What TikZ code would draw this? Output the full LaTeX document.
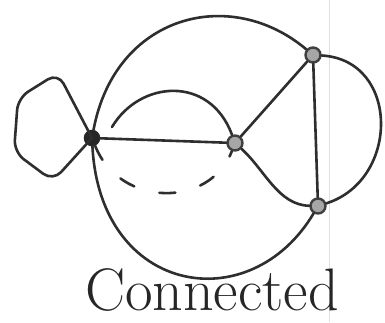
\documentclass[tikz,border=0pt]{standalone}
\begin{document}
\begin{tikzpicture}[x=1pt,y=-1pt,
  ink/.style={draw=black!82,line width=2.6pt,line cap=round,line join=round},
  vfill/.style={circle,inner sep=0pt,minimum size=15pt,fill=black!85,draw=black!85,line width=1.5pt},
  vhollow/.style={circle,inner sep=0pt,minimum size=15pt,fill=black!35,draw=black!75,line width=2.4pt},
  lbl/.style={font=\fontsize{60}{60}\selectfont,text=black!85,anchor=base,inner sep=0pt}]
\useasboundingbox (0,0) rectangle (385,322);
\fill[white] (0,0) rectangle (385,322);
\draw[black!12,line width=1pt] (329,0) -- (329,322);

\node[vfill] (A) at (92,138) {};
\node[vhollow] (B) at (235,143) {};
\node[vhollow] (C) at (313,55) {};
\node[vhollow] (D) at (318,206) {};
\coordinate (a1) at (112,127);

% loop at A
\draw[ink,rounded corners=12pt] (A.center) -- (58,73) -- (18,98) -- (14,152) -- (53,181) -- (A.center);
% big upper arc A-C
\draw[ink] (A) .. controls (115,15) and (230,-15) .. (C);
% big lower arc A-D
\draw[ink] (A) .. controls (100,295) and (250,320) .. (D);
% middle arc to B
\draw[ink] (a1) .. controls (140,80) and (210,75) .. (B);
% A-B straight
\draw[ink] (A) -- (B);
% dashed arc A-B
\draw[ink,dash pattern=on 16pt off 26pt] (A) .. controls (120,208) and (210,208) .. (B);
% B-C
\draw[ink] (B) -- (C);
% B-D wavy
\draw[ink] (B) .. controls (265,170) and (278,205) .. (D);
% C-D
\draw[ink] (C) -- (D);
% C-D outer arc
\draw[ink] (C) .. controls (400,60) and (400,180) .. (D);

\node[lbl] (T) at (212,310) {Connected};
\end{tikzpicture}
\end{document}
